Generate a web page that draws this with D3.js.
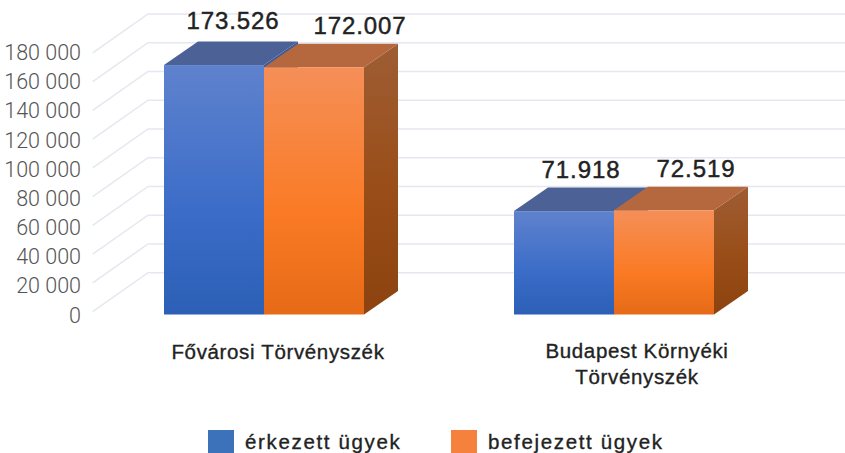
<!DOCTYPE html>
<html><head><meta charset="utf-8">
<script src="https://cdn.jsdelivr.net/npm/d3@7"></script>
<style>html,body{margin:0;padding:0;background:#fff}svg{display:block}</style>
</head><body><svg id="c" width="845" height="453"></svg>
<script>
const categories = ["Fővárosi Törvényszék", "Budapest Környéki Törvényszék"];
const seriesNames = ["érkezett ügyek", "befejezett ügyek"];
const arrived = [173526, 71918];
const finished = [172007, 72519];
const arrivedLabels = ["173.526", "71.918"];
const finishedLabels = ["172.007", "72.519"];
const tickValues = [0,20000,40000,60000,80000,100000,120000,140000,160000,180000];
const categoryLines = [["Fővárosi Törvényszék"], ["Budapest Környéki", "Törvényszék"]];

const svg = d3.select("#c");
const x0 = d3.scaleBand().domain(categories).range([89, 789]).paddingInner(0).paddingOuter(0);
const x1 = d3.scaleBand().domain(seriesNames).range([75, 275]);
const y = d3.scaleLinear().domain([0, 180000]).range([314.5, 55.75]);
const yLabel = d3.scaleLinear().domain([0, 180000]).range([322.5, 60]);
const depthX = 34, depthY = 23.5;
const wallFront = 92.7, wallBack = 148, wallDY = 39, wallShift = -2.8;
const font = "'Liberation Sans', Arial, sans-serif";

const defs = svg.append("defs");
function grad(id, stops){
  const g = defs.append("linearGradient").attr("id", id).attr("x1",0).attr("y1",0).attr("x2",0).attr("y2",1);
  stops.forEach(s=>g.append("stop").attr("offset",s[0]).attr("stop-color",s[1]));
}
grad("fb",[[0,"#5f82cd"],[0.6,"#3a6cc8"],[1,"#2c5fb5"]]);
grad("fo",[[0,"#f58f58"],[0.6,"#fa7a24"],[1,"#e66a17"]]);
grad("so",[[0,"#9e5d34"],[0.5,"#9a4f1a"],[1,"#8d430f"]]);

// walls
const fmt = v => d3.format(",")(v).replace(/,/g," ");
const grid = svg.append("g").attr("fill","none").attr("stroke","#e5e8ef").attr("stroke-width",1.6);
tickValues.forEach(v=>{
  const yf = y(v)+wallShift;
  grid.append("path").attr("d",d3.line()([[wallFront,yf],[wallBack,yf-wallDY],[845,yf-wallDY]]));
});
svg.append("g").selectAll("text").data(tickValues).join("text")
  .attr("x",81).attr("y",d=>yLabel(d)).attr("text-anchor","end")
  .attr("font-family","Roboto, sans-serif").attr("font-weight",300).attr("font-size",21.5).attr("fill","#555")
  .text(fmt);

// bars
const bars = [];
categories.forEach((c,i)=>{
  bars.push({c,s:seriesNames[0],v:arrived[i],t:"b"});
  bars.push({c,s:seriesNames[1],v:finished[i],t:"o"});
});
const barG = svg.append("g");
bars.forEach(b=>{
  const xl = x0(b.c)+x1(b.s), xr = xl+x1.bandwidth(), yt = y(b.v), yb = y(0);
  barG.append("path").attr("d",d3.line()([[xr,yb],[xr+depthX,yb-depthY],[xr+depthX,yt-depthY],[xr,yt]]))
    .attr("fill",b.t==="b"?"#3a5a9c":"url(#so)");
  barG.append("path").attr("d",d3.line()([[xl,yt],[xl+depthX,yt-depthY],[xr+depthX,yt-depthY],[xr,yt]]))
    .attr("fill",b.t==="b"?"#4c6296":"#b5673d");
});
bars.forEach(b=>{
  const xl = x0(b.c)+x1(b.s);
  barG.append("rect").attr("x",xl).attr("y",y(b.v)).attr("width",x1.bandwidth()).attr("height",y(0)-y(b.v))
    .attr("fill",b.t==="b"?"url(#fb)":"url(#fo)");
});

// data labels
const labelOffsets = [[19,-36],[46,-33],[17,-33],[32,-33]];
const labelTexts = [arrivedLabels[0],finishedLabels[0],arrivedLabels[1],finishedLabels[1]];
bars.forEach((b,i)=>{
  svg.append("text").attr("x",x0(b.c)+x1(b.s)+x1.bandwidth()/2+labelOffsets[i][0]).attr("y",y(b.v)+labelOffsets[i][1])
    .attr("text-anchor","middle").attr("font-family",font).attr("font-size",24).attr("letter-spacing",0.9)
    .attr("fill","#222").attr("stroke","#222").attr("stroke-width",0.45)
    .text(labelTexts[i]);
});

// category labels
const catX = [278, 637], catY = [359, 358];
categoryLines.forEach((lines,i)=>{
  lines.forEach((l,j)=>{
    svg.append("text").attr("x",catX[i]).attr("y",catY[i]+j*26)
      .attr("text-anchor","middle").attr("font-family",font).attr("font-size",20.5).attr("letter-spacing",0.65)
      .attr("fill","#222").attr("stroke","#222").attr("stroke-width",0.35).text(l);
  });
});

// legend
const legendX = [208, 451], legendColors = ["#3b72b9","#f5813d"];
seriesNames.forEach((s,i)=>{
  svg.append("rect").attr("x",legendX[i]).attr("y",430).attr("width",26).attr("height",23).attr("fill",legendColors[i]);
  svg.append("text").attr("x",legendX[i]+37).attr("y",449).attr("font-family",font)
    .attr("font-size",20.5).attr("letter-spacing",1.65).attr("fill","#222").attr("stroke","#222").attr("stroke-width",0.35).text(s);
});
</script></body></html>
